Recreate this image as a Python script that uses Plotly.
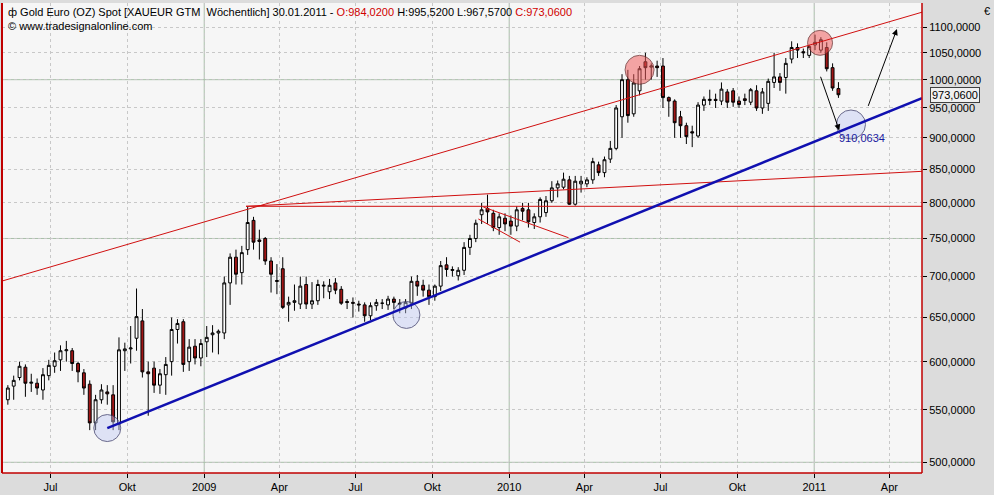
import math
import pandas as pd
import plotly.graph_objects as go

# weekly candles (week ending Sunday), 143 weeks ending 30.01.2011
dates = pd.date_range(end="2011-01-30", periods=143, freq="W-SUN")

opens = [560,574,583,594,577,577,570,585,595,602,612,612,598,588,576,537,560,568,565,536,
         612,614,626,646,589,593,575,586,600,636,645,600,617,604,622,630,632,632,
         692,725,705,735,775,748,750,720,695,710,665,668,666,690,666,670,688,681,692,684,
         669,668,666,665,652,664,667,665,672,667,661,667,694,689,683,675,688,715,709,701,708,738,750,
         783,792,785,765,778,774,767,792,790,772,780,786,803,822,823,834,798,828,828,834,857,845,866,
         883,935,1000,940,980,1033,1023,1025,1025,
         968,962,935,920,910,903,955,963,965,962,978,980,962,966,960,980,950,958,995,1005,1004,
         1038,1060,1052,1045,1065,1055,1060,1022,984.02]
highs = [575,585,600,597,587,582,593,602,610,618,623,615,600,592,580,565,576,575,575,627,
         621,640,685,660,600,600,592,605,650,648,648,625,625,625,640,641,636,700,
         730,735,740,795,780,762,752,725,716,725,675,690,700,700,693,696,694,697,698,688,
         672,674,670,668,668,672,672,676,675,672,672,700,702,696,690,690,720,725,713,712,745,755,776,
         800,812,790,785,785,782,795,800,800,785,808,810,832,833,845,840,840,840,838,868,862,870,895,
         955,1010,1018,1010,1025,1050,1030,1035,1040,
         970,965,945,925,920,960,970,982,975,995,983,985,970,975,985,990,985,1002,1050,1012,1040,
         1072,1068,1058,1065,1085,1080,1070,1030,995.52]
lows = [555,560,580,563,568,565,560,580,588,590,600,590,578,565,530,530,556,555,530,530,
        590,598,612,583,544,567,566,565,585,620,589,590,597,595,605,610,608,625,
        665,690,690,728,735,722,715,680,678,660,645,658,660,660,660,665,673,672,678,665,
        660,650,657,645,647,658,660,659,660,655,655,660,676,675,665,670,682,700,700,695,702,728,745,
        770,770,760,755,760,755,760,775,765,763,772,780,800,808,820,797,796,815,823,828,840,838,860,
        880,900,925,935,972,1000,1000,1005,950,
        935,900,900,890,885,900,945,955,950,955,950,952,950,955,955,945,940,945,985,980,975,
        1030,1040,1040,1040,1055,1050,1015,980,967.57]
closes = [572,580,595,577,578,572,586,596,601,612,613,598,589,572,537,560,570,566,538,613,
          614,615,651,589,587,575,587,597,636,643,597,616,604,620,627,632,634,692,
          725,703,731,772,745,746,720,703,694,662,668,670,688,666,670,690,689,689,683,667,
          668,667,665,652,664,668,667,672,668,666,668,694,688,683,675,688,714,709,708,708,738,750,771,
          790,787,765,780,770,767,790,788,773,780,805,803,822,828,835,798,832,832,834,862,845,865,883,
          950,1000,937,994,1020,1022,1025,1022,968,
          962,925,920,902,908,955,965,965,963,983,960,960,956,963,982,950,978,997,1005,995,1030,
          1060,1055,1050,1062,1070,1075,1020,985,973.06]

y_ticks = list(range(500, 1101, 50))
y_ticklabels = [f"{v},0000" for v in y_ticks]
x_ticks = ["2008-07-01", "2008-10-01", "2009-01-01", "2009-04-01", "2009-07-01", "2009-10-01",
           "2010-01-01", "2010-04-01", "2010-07-01", "2010-10-01", "2011-01-01", "2011-04-01"]
x_ticklabels = ["Jul", "Okt", "2009", "Apr", "Jul", "Okt", "2010", "Apr", "Jul", "Okt", "2011", "Apr"]

# trend lines: (date0, price0, date1, price1, color, width)
trend_lines = [
    ("2008-05-03", 694, "2011-05-10", 1130, "#d01010", 1),
    ("2009-02-20", 795, "2011-05-10", 847, "#d01010", 1),
    ("2009-02-20", 795, "2011-05-10", 795, "#d01010", 1),
    ("2009-11-25", 777, "2010-01-14", 745, "#d01010", 1),
    ("2009-12-01", 794, "2010-03-13", 751, "#d01010", 1),
    ("2008-09-07", 532, "2011-05-10", 967, "#1010b0", 2.5),
]
blue_circle_dates = ["2008-09-07", "2009-08-31", "2011-02-14"]
blue_circle_prices = [532, 653, 922]
blue_circle_sizes = [27, 27, 29]
red_circle_dates = ["2010-06-06", "2011-01-08"]
red_circle_prices = [1018, 1069]
red_circle_sizes = [29, 25]
arrows = [("2011-01-08", 1008, "2011-01-31", 912), ("2011-03-06", 951, "2011-04-10", 1096)]

L = math.log10
fig = go.Figure()
fig.add_trace(go.Candlestick(
    x=dates, open=opens, high=highs, low=lows, close=closes,
    increasing=dict(fillcolor="white", line=dict(color="black", width=1)),
    decreasing=dict(fillcolor="#a01515", line=dict(color="black", width=1)),
    whiskerwidth=0, showlegend=False, hoverinfo="skip"))

shapes = []
for d in ["2009-01-01", "2010-01-01", "2011-01-01"]:
    shapes.append(dict(type="line", xref="x", yref="paper", x0=d, x1=d, y0=0, y1=1,
                       line=dict(color="#a8c0a8", width=1), layer="below"))
for p in [500, 750, 1000]:
    shapes.append(dict(type="line", xref="paper", yref="y", x0=0, x1=1, y0=p, y1=p,
                       line=dict(color="#a8c0a8", width=1), layer="below"))
for d0, p0, d1, p1, c, w in trend_lines:
    shapes.append(dict(type="line", xref="x", yref="y", x0=d0, y0=p0, x1=d1, y1=p1,
                       line=dict(color=c, width=w)))
shapes.append(dict(type="line", xref="paper", yref="paper", x0=0, x1=0, y0=0, y1=1,
                   line=dict(color="#c00000", width=2)))
shapes.append(dict(type="line", xref="paper", yref="paper", x0=1, x1=1, y0=0, y1=1,
                   line=dict(color="#c00000", width=1.5)))
shapes.append(dict(type="line", xref="paper", yref="paper", x0=0, x1=1, y0=0, y1=0,
                   line=dict(color="#c00000", width=1.5)))

fig.add_trace(go.Scatter(x=blue_circle_dates, y=blue_circle_prices, mode="markers",
                         marker=dict(size=blue_circle_sizes, color="rgba(190,200,245,0.6)",
                                     line=dict(color="#303060", width=1)),
                         showlegend=False, hoverinfo="skip"))
fig.add_trace(go.Scatter(x=red_circle_dates, y=red_circle_prices, mode="markers",
                         marker=dict(size=red_circle_sizes, color="rgba(240,90,90,0.75)",
                                     line=dict(color="#602020", width=1)),
                         showlegend=False, hoverinfo="skip"))

ann = []
for d0, p0, d1, p1 in arrows:
    ann.append(dict(x=d1, y=L(p1), ax=d0, ay=L(p0), xref="x", yref="y", axref="x", ayref="y",
                    showarrow=True, arrowhead=2, arrowsize=1.2, arrowwidth=1, arrowcolor="black", text=""))
ann.append(dict(x="2011-02-27", y=L(900), xref="x", yref="y", text="910,0634", showarrow=False,
                font=dict(color="#1a1aa0", size=11)))
ann.append(dict(x=0.004, y=0.998, xref="paper", yref="paper", xanchor="left", yanchor="top",
                showarrow=False, align="left",
                text="ф Gold Euro (OZ) Spot [XAUEUR GTM  Wöchentlich] 30.01.2011 - "
                     "<span style='color:#d00000'>O:984,0200</span> H:995,5200 L:967,5700 "
                     "<span style='color:#d00000'>C:973,0600</span><br>© www.tradesignalonline.com",
                font=dict(size=11, color="black", family="Liberation Sans")))
ann.append(dict(x=1.0, y=L(973.06), xref="paper", yref="y", xanchor="left", xshift=8,
                text="973,0600", showarrow=False, bgcolor="#f0f0f0", bordercolor="#404040",
                borderwidth=1, borderpad=1, font=dict(size=11, color="black")))
ann.append(dict(x=1.0, y=1.0, xref="paper", yref="paper", xanchor="left", yanchor="top", xshift=60,
                text="€", showarrow=False, font=dict(size=11, color="black")))

fig.update_layout(
    width=994, height=495, margin=dict(l=2, r=72, t=3, b=22),
    paper_bgcolor="#dcdcdc", plot_bgcolor="#f6f6f6",
    font=dict(family="Liberation Sans", size=11, color="black"),
    shapes=shapes, annotations=ann, hovermode=False,
    xaxis=dict(type="date", range=["2008-05-04", "2011-05-10"], rangeslider=dict(visible=False),
               tickvals=x_ticks, ticktext=x_ticklabels, ticks="outside", ticklen=4,
               tickcolor="black", showgrid=True, gridcolor="#c8c8c8", griddash="dot",
               zeroline=False, showline=False),
    yaxis=dict(type="log", range=[L(490.4), L(1149)], side="right", tickvals=y_ticks,
               ticktext=y_ticklabels, ticks="outside", ticklen=4, tickcolor="black",
               showgrid=True, gridcolor="#c8c8c8", griddash="dot", zeroline=False),
)
fig.write_html("out.html", config={"displayModeBar": False},
               post_script="document.body.style.margin='0';document.body.style.overflow='hidden';")
